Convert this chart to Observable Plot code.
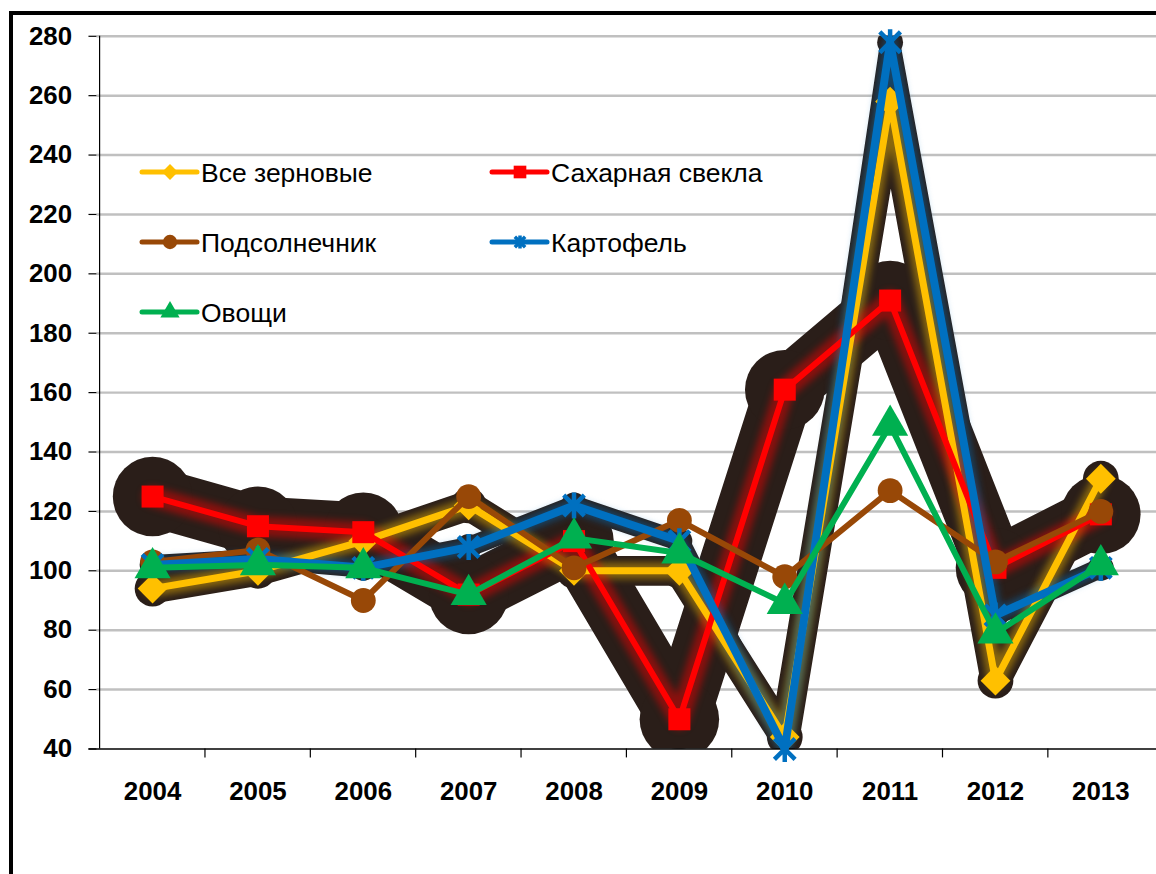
<!DOCTYPE html>
<html><head><meta charset="utf-8">
<script src="https://cdn.jsdelivr.net/npm/d3@7"></script>
<script src="https://cdn.jsdelivr.net/npm/@observablehq/plot@0.6"></script>
<style>
html,body{margin:0;padding:0;background:#fff;overflow:hidden;width:1156px;height:874px;}
#wrap{position:relative;width:1156px;height:874px;overflow:hidden;background:#fff;}
#frame{position:absolute;left:9px;top:11px;width:1300px;height:1000px;border-left:4px solid #000;border-top:4px solid #000;box-sizing:border-box;pointer-events:none;}
#chart{position:absolute;left:0;top:0;}
#legend{position:absolute;left:0;top:0;}
</style></head><body>
<div id="wrap"><div id="chart"></div><div id="legend"></div><div id="frame"></div></div>
<script>
// ---- data ----
const years = ["2004","2005","2006","2007","2008","2009","2010","2011","2012","2013"];
const yTicks = [40,60,80,100,120,140,160,180,200,220,240,260,280];
const seriesNames = ["Все зерновые","Сахарная свекла","Подсолнечник","Картофель","Овощи"];
const grain     = [94, 100, 110, 122, 100, 100, 44, 258, 63, 131];
const beet      = [125, 115, 113, 92, 110, 50, 161, 191, 101, 119];
const sunflower = [103, 107, 90, 125, 101, 117, 98, 127, 103, 120];
const potato    = [102, 104, 101, 108, 122, 110, 40, 278, 85, 101];
const veg       = [101, 102, 101, 92, 111, 106, 89, 149, 79, 102];

const seriesValues = [grain, beet, sunflower, potato, veg];
const colors  = ["#FFC000","#FF0000","#984807","#0070C0","#00B050"];
const symbols = ["diamond2","square","circle","star6","triangle"];
const lineW   = [7, 6, 6, 8, 6];
const shadowLineW = [30, 60, 0, 20, 0];
const shadowDotR  = [18, 40, 0, 13, 0];
const glowW   = [16, 20, 0, 14, 0];

const rows = [];
seriesNames.forEach((s, si) => years.forEach((yr, i) => rows.push({series: s, si, year: yr, value: seriesValues[si][i]})));
const bySeries = si => rows.filter(d => d.si === si);

// Excel-like "star" marker: an X with a vertical bar
const excelStar = {
  draw(ctx, size) {
    const r = Math.sqrt(size / Math.PI), d = r * 0.8;
    ctx.moveTo(-d, -d); ctx.lineTo(d, d);
    ctx.moveTo(d, -d); ctx.lineTo(-d, d);
    ctx.moveTo(0, -r); ctx.lineTo(0, r);
  }
};

// ---- layout ----
const W = 1163, ML = 97, MT = 36, H = 874, MB = 121;
const step = (W - ML) / years.length;
const font = "'Liberation Sans', Arial, sans-serif";
const shadowColor = "#2a1e19";

const marks = [];
marks.push(Plot.ruleY(yTicks.filter(v => v > 40), {y: d => d, stroke: "#c0c0c0", strokeWidth: 2.5}));
// dark shadows (glow effect)
seriesNames.forEach((s, si) => {
  if (!shadowLineW[si]) return;
  marks.push(Plot.line(bySeries(si), {x: "year", y: "value", stroke: shadowColor, strokeWidth: shadowLineW[si], strokeLinejoin: "round", strokeLinecap: "round", clip: true}));
  marks.push(Plot.dot(bySeries(si), {x: "year", y: "value", r: shadowDotR[si], fill: shadowColor, stroke: "none", clip: true}));
});
// colored inner glows
seriesNames.forEach((s, si) => {
  if (glowW[si]) marks.push(Plot.line(bySeries(si), {x: "year", y: "value", stroke: colors[si], strokeOpacity: 0.45, strokeWidth: glowW[si], strokeLinejoin: "round", strokeLinecap: "round", clip: true, ariaDescription: "glow"}));
});
// axes
marks.push(Plot.ruleY([40], {y: d => d, stroke: "#000", strokeWidth: 1.5, insetLeft: -8}));
marks.push(Plot.ruleX([years[0]], {x: d => d, dx: -step / 2, y1: 40, y2: 280, stroke: "#000", strokeWidth: 1.2}));
marks.push(Plot.ruleX(years.slice(1), {x: d => d, dx: -step / 2, y1: 40, y2: 40, insetBottom: -9, stroke: "#000", strokeWidth: 1.2}));
marks.push(Plot.axisY(yTicks, {label: null, tickSize: 8, tickPadding: 17, fontSize: 26, fontWeight: "bold", fill: "#000", stroke: "#000", strokeWidth: 1.2}));
marks.push(Plot.axisX(years, {label: null, tickSize: 0, tickPadding: 33, fontSize: 26, fontWeight: "bold", fill: "#000"}));
// series lines + markers
seriesNames.forEach((s, si) => {
  marks.push(Plot.line(bySeries(si), {x: "year", y: "value", stroke: colors[si], strokeWidth: lineW[si], strokeLinejoin: "round", strokeLinecap: "round"}));
  const sym = symbols[si];
  if (sym === "star6") {
    marks.push(Plot.dot(bySeries(si), {x: "year", y: "value", symbol: excelStar, r: 13, stroke: colors[si], strokeWidth: 4.5, fill: "none"}));
  } else {
    marks.push(Plot.dot(bySeries(si), {x: "year", y: "value", symbol: sym, r: sym === "square" ? 12.5 : sym === "circle" ? 12.5 : 13.5, fill: colors[si], stroke: "none"}));
  }
});

const chart = Plot.plot({
  width: W, height: H,
  marginLeft: ML, marginRight: 0, marginTop: MT, marginBottom: MB,
  style: {fontFamily: font, background: "transparent", overflow: "visible"},
  x: {type: "point", domain: years, padding: 0.5, axis: null},
  y: {domain: [40, 280], axis: null},
  marks
});
document.getElementById("chart").appendChild(chart);
d3.select(chart).selectAll("g[aria-description=glow]").style("filter", "blur(4px)");

// ---- legend ----
const lg = d3.select("#legend").append("svg").attr("width", 1156).attr("height", 874).style("overflow", "visible");
const legPos = [[142, 172], [492, 172], [142, 242], [492, 242], [142, 312]];
seriesNames.forEach((s, si) => {
  const [x0, y0] = legPos[si];
  const g = lg.append("g").attr("transform", `translate(${x0},${y0})`);
  g.append("line").attr("x1", 0).attr("x2", 55).attr("y1", 0).attr("y2", 0)
    .attr("stroke", colors[si]).attr("stroke-width", 5).attr("stroke-linecap", "round");
  const symMap = {diamond2: d3.symbolDiamond2, square: d3.symbolSquare, circle: d3.symbolCircle, star6: excelStar, triangle: d3.symbolTriangle};
  const size = symbols[si] === "star6" ? 130 : 160;
  const p = g.append("path").attr("transform", "translate(28,0)").attr("d", d3.symbol(symMap[symbols[si]], size)());
  if (symbols[si] === "star6") p.attr("fill", "none").attr("stroke", colors[si]).attr("stroke-width", 3.5);
  else p.attr("fill", colors[si]);
  g.append("text").attr("x", 59).attr("y", 0).attr("dy", "0.36em")
    .attr("font-family", font).attr("font-size", 26.5).attr("fill", "#000").text(s);
});
</script>
</body></html>
